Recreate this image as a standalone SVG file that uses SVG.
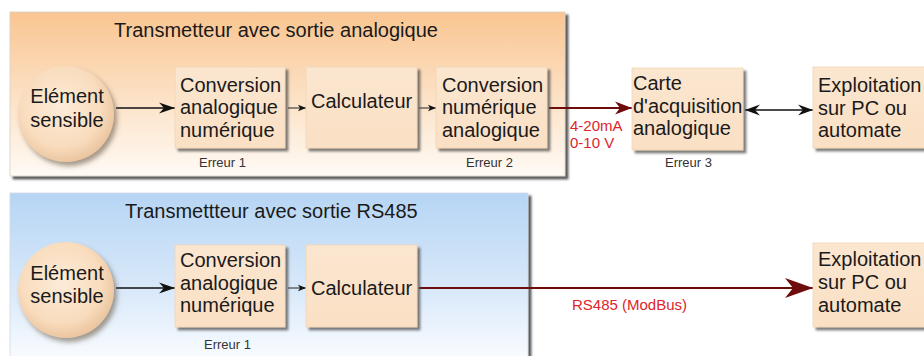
<svg xmlns="http://www.w3.org/2000/svg" width="924" height="356" viewBox="0 0 924 356">
  <defs>
    <linearGradient id="gOrange" x1="0" y1="0" x2="0" y2="1">
      <stop offset="0" stop-color="#f9c591"/>
      <stop offset="0.55" stop-color="#fce3c8"/>
      <stop offset="1" stop-color="#fffaf5"/>
    </linearGradient>
    <linearGradient id="gBlue" x1="0" y1="0" x2="0" y2="1">
      <stop offset="0" stop-color="#b6d5f4"/>
      <stop offset="0.6" stop-color="#dbeafa"/>
      <stop offset="1" stop-color="#fbfdff"/>
    </linearGradient>
    <linearGradient id="gBox" x1="0" y1="0" x2="0" y2="1">
      <stop offset="0" stop-color="#fbe6d0"/>
      <stop offset="1" stop-color="#fae0c4"/>
    </linearGradient>
    <radialGradient id="gDisc" cx="0.45" cy="0.42" r="0.6">
      <stop offset="0" stop-color="#fdebd8"/>
      <stop offset="0.7" stop-color="#f9dcbd"/>
      <stop offset="1" stop-color="#e9c39d"/>
    </radialGradient>
    <filter id="fPanel" x="-5%" y="-5%" width="110%" height="115%">
      <feDropShadow dx="3" dy="3" stdDeviation="0.8" flood-color="#3a3a3a" flood-opacity="0.85"/>
    </filter>
    <filter id="fBox" x="-10%" y="-10%" width="125%" height="125%">
      <feDropShadow dx="3" dy="3" stdDeviation="1.2" flood-color="#4a4a4a" flood-opacity="0.7"/>
    </filter>
    <filter id="fDisc" x="-15%" y="-15%" width="135%" height="135%">
      <feDropShadow dx="3" dy="4" stdDeviation="2.5" flood-color="#6a5a4a" flood-opacity="0.6"/>
    </filter>
    <marker id="mBig" markerUnits="userSpaceOnUse" markerWidth="18" markerHeight="12" refX="16" refY="6" orient="auto">
      <path d="M16,6 L0,0.5 L5,6 L0,11.5 Z" fill="#111"/>
    </marker>
    <marker id="mSmall" markerUnits="userSpaceOnUse" markerWidth="9" markerHeight="8" refX="8" refY="4" orient="auto">
      <path d="M8,4 L0,0.8 L2,4 L0,7.2 Z" fill="#111"/>
    </marker>
    <marker id="mDbl" markerUnits="userSpaceOnUse" markerWidth="17" markerHeight="12" refX="15" refY="6" orient="auto-start-reverse">
      <path d="M15,6 L0,0.5 L5,6 L0,11.5 Z" fill="#111"/>
    </marker>
    <marker id="mRed" markerUnits="userSpaceOnUse" markerWidth="18" markerHeight="14" refX="17" refY="7" orient="auto">
      <path d="M17,7 L0,0.5 L5,7 L0,13.5 Z" fill="#6e0b0b"/>
    </marker>
    <marker id="mRedBig" markerUnits="userSpaceOnUse" markerWidth="30" markerHeight="22" refX="28" refY="11" orient="auto">
      <path d="M28,11 L0,1 L8,11 L0,21 Z" fill="#6e0b0b"/>
    </marker>
  </defs>
  <style>
    .t { font-family: "Liberation Sans", Arial, sans-serif; fill: #1a1a1a; }
    .title { font-size: 20px; }
    .lbl { font-size: 20px; }
    .err { font-size: 13px; fill: #333; }
    .sig { font-size: 15px; fill: #e0242a; }
    .box { fill: url(#gBox); stroke: #f3d5b5; stroke-width: 0.8; filter: url(#fBox); }
    .disc { fill: url(#gDisc); filter: url(#fDisc); }
    .ln { fill: none; stroke: #111; stroke-width: 1.5; }
    .lnS { fill: none; stroke: #222; stroke-width: 1; }
    .red { fill: none; stroke: #6e0b0b; stroke-width: 2; }
  </style>

  <!-- panels -->
  <g id="panel-analog">
    <rect x="10" y="12" width="555" height="164" fill="url(#gOrange)" stroke="#d8cfc6" stroke-width="0.8" filter="url(#fPanel)"/>
    <text class="t title" x="114" y="37">Transmetteur avec sortie analogique</text>
  </g>
  <g id="panel-rs485">
    <rect x="10" y="193" width="518" height="170" fill="url(#gBlue)" stroke="#d0dae4" stroke-width="0.8" filter="url(#fPanel)"/>
    <text class="t title" x="125" y="218">Transmettteur avec sortie RS485</text>
  </g>

  <!-- connectors -->
  <g id="connectors">
    <line class="ln" x1="116" y1="108" x2="175" y2="108" marker-end="url(#mBig)"/>
    <line class="lnS" x1="288" y1="108" x2="306" y2="108" marker-end="url(#mSmall)"/>
    <line class="lnS" x1="419" y1="108" x2="436" y2="108" marker-end="url(#mSmall)"/>
    <line class="red" x1="549" y1="108" x2="632" y2="108" marker-end="url(#mRed)"/>
    <line class="ln" x1="745" y1="110" x2="813" y2="110" marker-start="url(#mDbl)" marker-end="url(#mDbl)"/>
    <line class="ln" x1="116" y1="288" x2="175" y2="288" marker-end="url(#mBig)"/>
    <line class="lnS" x1="288" y1="288" x2="306" y2="288" marker-end="url(#mSmall)"/>
    <line class="red" x1="419" y1="288" x2="813" y2="288" stroke-width="2.5" marker-end="url(#mRedBig)"/>
    <text class="t sig" x="570" y="131">4-20mA</text>
    <text class="t sig" x="570" y="148">0-10 V</text>
    <text class="t sig" x="572" y="310">RS485 (ModBus)</text>
  </g>

  <!-- analogue output chain -->
  <g id="sensor-a">
    <circle class="disc" cx="66" cy="114" r="48"/>
    <text class="t lbl" x="67" y="103" text-anchor="middle">Elément</text>
    <text class="t lbl" x="67" y="127" text-anchor="middle">sensible</text>
  </g>
  <g id="adc-a">
    <rect class="box" x="175" y="67" width="110" height="81"/>
    <text class="t lbl" x="180" y="92">Conversion</text>
    <text class="t lbl" x="180" y="114">analogique</text>
    <text class="t lbl" x="180" y="137">numérique</text>
    <text class="t err" x="199" y="167">Erreur 1</text>
  </g>
  <g id="cpu-a">
    <rect class="box" x="306" y="67" width="111" height="81"/>
    <text class="t lbl" x="311" y="108">Calculateur</text>
  </g>
  <g id="dac-a">
    <rect class="box" x="436" y="67" width="111" height="81"/>
    <text class="t lbl" x="442" y="92">Conversion</text>
    <text class="t lbl" x="442" y="114">numérique</text>
    <text class="t lbl" x="442" y="137">analogique</text>
    <text class="t err" x="466" y="167">Erreur 2</text>
  </g>
  <g id="acq-card">
    <rect class="box" x="632" y="68" width="111" height="82"/>
    <text class="t lbl" x="633" y="90">Carte</text>
    <text class="t lbl" x="633" y="113">d'acquisition</text>
    <text class="t lbl" x="633" y="135">analogique</text>
    <text class="t err" x="665" y="167">Erreur 3</text>
  </g>
  <g id="pc-a">
    <rect class="box" x="813" y="67" width="115" height="81"/>
    <text class="t lbl" x="818" y="92">Exploitation</text>
    <text class="t lbl" x="818" y="115">sur PC ou</text>
    <text class="t lbl" x="818" y="137">automate</text>
  </g>

  <!-- RS485 output chain -->
  <g id="sensor-b">
    <circle class="disc" cx="66" cy="290" r="48"/>
    <text class="t lbl" x="67" y="280" text-anchor="middle">Elément</text>
    <text class="t lbl" x="67" y="303" text-anchor="middle">sensible</text>
  </g>
  <g id="adc-b">
    <rect class="box" x="175" y="245" width="110" height="82"/>
    <text class="t lbl" x="180" y="267">Conversion</text>
    <text class="t lbl" x="180" y="290">analogique</text>
    <text class="t lbl" x="180" y="312">numérique</text>
    <text class="t err" x="204" y="349">Erreur 1</text>
  </g>
  <g id="cpu-b">
    <rect class="box" x="306" y="245" width="111" height="82"/>
    <text class="t lbl" x="311" y="295">Calculateur</text>
  </g>
  <g id="pc-b">
    <rect class="box" x="813" y="243" width="115" height="84"/>
    <text class="t lbl" x="818" y="266">Exploitation</text>
    <text class="t lbl" x="818" y="289">sur PC ou</text>
    <text class="t lbl" x="818" y="312">automate</text>
  </g>
</svg>
